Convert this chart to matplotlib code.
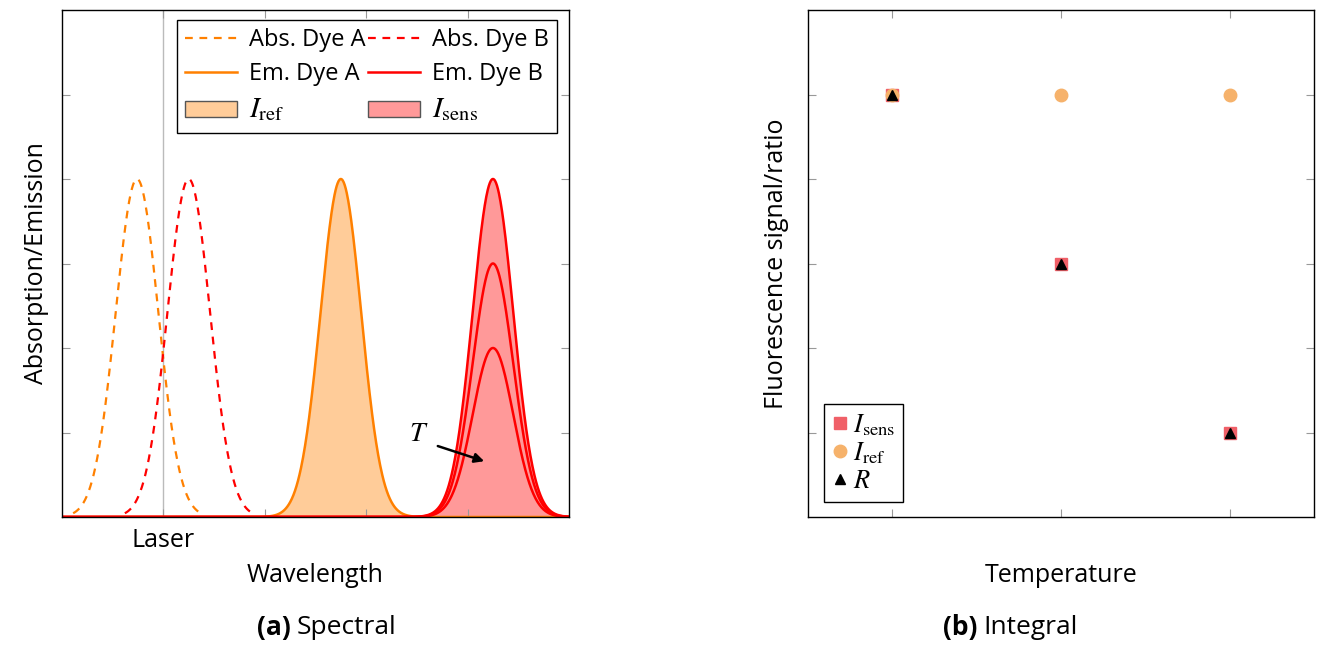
import matplotlib
matplotlib.use("Agg")
import matplotlib.pyplot as plt
import numpy as np
from matplotlib.patches import Patch
from matplotlib.lines import Line2D

plt.rcParams['font.family'] = ['Open Sans', 'DejaVu Sans']
plt.rcParams['mathtext.fontset'] = 'stix'
plt.rcParams['font.size'] = 18

#%% donnees
# spectres (centre, hauteur, largeur)
abs_A = [0.74, 4.0, 0.21]
abs_B = [1.25, 4.0, 0.21]
em_A = [2.75, 4.0, 0.2]
em_B = [4.25, 4.0, 0.2]
em_B_T = [4.0, 3.0, 2.0]   # hauteurs Em. Dye B selon T
laser = 1.0

# integrale
temp = [0.5, 1.5, 2.5]
I_sens = [5, 3, 1]
I_ref = [5, 5, 5]
R = [5, 3, 1]

orange = '#FF8000'
rouge = '#FF0000'
tick_c = '#999999'

def gauss(x, c, h, s):
    return h*np.exp(-(x-c)**2/(2*s**2))

def style_axes(ax):
    ax.tick_params(direction='in', length=6, color=tick_c, top=True, right=True,
                   labelleft=False, labelbottom=False, pad=8)
    for sp in ax.spines.values():
        sp.set_linewidth(1.0)

fig = plt.figure(figsize=(13.25, 6.49), dpi=100)

#%% (a) Spectral
ax1 = fig.add_axes([62/1325, 1-517/649, 507/1325, 507/649])
ax1.set_xlim(0, 5)
ax1.set_ylim(0, 6)
ax1.axvline(laser, color='#BBBBBB', lw=1, zorder=0)

x = np.linspace(0, 5, 1000)
for p, col in [(abs_A, orange), (abs_B, rouge)]:
    xa = np.linspace(p[0]-3*p[2], p[0]+3*p[2], 300)
    ax1.plot(xa, gauss(xa, *p), '--', color=col, lw=1.6, dashes=(3.5, 3))

ax1.fill_between(x, gauss(x, *em_A), color='#FFCC99', lw=0)
ax1.plot(x, gauss(x, *em_A), color=orange, lw=1.8)
ax1.fill_between(x, gauss(x, em_B[0], em_B_T[0], em_B[2]), color='#FF9999', lw=0)
for h in em_B_T:
    ax1.plot(x, gauss(x, em_B[0], h, em_B[2]), color=rouge, lw=1.8)

ax1.annotate('', xy=(4.19, 0.65), xytext=(3.68, 0.85),
             arrowprops=dict(arrowstyle='-|>', color='black', lw=1.8, mutation_scale=14))
ax1.text(3.52, 0.98, '$T$', fontsize=20, ha='center', va='center')

ax1.set_xticks([1, 2, 3, 4])
ax1.set_yticks([1, 2, 3, 4, 5])
style_axes(ax1)
ax1.tick_params(axis='x', labelbottom=True)
ax1.set_xticklabels(['Laser', '', '', ''])
ax1.set_xlabel('Wavelength', labelpad=7)
ax1.set_ylabel('Absorption/Emission', labelpad=9)

h1 = [Line2D([], [], color=orange, ls='--', lw=1.6, dashes=(3.5, 3)),
      Line2D([], [], color=orange, lw=1.8),
      Patch(facecolor='#FFCC99', edgecolor='#555555'),
      Line2D([], [], color=rouge, ls='--', lw=1.6, dashes=(3.5, 3)),
      Line2D([], [], color=rouge, lw=1.8),
      Patch(facecolor='#FF9999', edgecolor='#555555')]
l1 = ['Abs. Dye A', 'Em. Dye A', r'$I_\mathrm{ref}$',
      'Abs. Dye B', 'Em. Dye B', r'$I_\mathrm{sens}$']
leg = ax1.legend(h1, l1, ncol=2, loc='upper right', bbox_to_anchor=(0.976, 0.98),
                 fancybox=False, edgecolor='black', framealpha=1,
                 handlelength=2.2, columnspacing=0.1, handletextpad=0.5,
                 labelspacing=0.4, borderpad=0.35, fontsize=17, borderaxespad=0)
leg.get_frame().set_linewidth(1.0)
for t in leg.get_texts():
    if '$' in t.get_text():
        t.set_fontsize(21)

fig.text(291/1325, 1-628/649, '(a)', ha='right', va='center', fontsize=19, fontweight='bold')
fig.text(297/1325, 1-628/649, 'Spectral', ha='left', va='center', fontsize=19)

#%% (b) Integral
ax2 = fig.add_axes([808/1325, 1-517/649, 506/1325, 507/649])
ax2.set_xlim(0, 3)
ax2.set_ylim(0, 6)
ax2.plot(temp, I_sens, 's', color='#F06068', ms=9, ls='none', label=r'$I_\mathrm{sens}$')
ax2.plot(temp, I_ref, 'o', color='#F6B26B', ms=9, ls='none', label=r'$I_\mathrm{ref}$')
ax2.plot(temp, R, '^', color='black', ms=7, ls='none', label='$R$')
ax2.set_xticks(temp)
ax2.set_yticks([1, 2, 3, 4, 5])
style_axes(ax2)
ax2.set_xlabel('Temperature', labelpad=33)
ax2.set_ylabel('Fluorescence signal/ratio', labelpad=14)
leg2 = ax2.legend(loc='lower left', bbox_to_anchor=(0.032, 0.03), fancybox=False,
                  edgecolor='black', framealpha=1, handlelength=0.6, handletextpad=0.2,
                  labelspacing=0.1, borderpad=0.3, fontsize=19, borderaxespad=0)
leg2.get_frame().set_linewidth(1.0)

fig.text(977/1325, 1-628/649, '(b)', ha='right', va='center', fontsize=19, fontweight='bold')
fig.text(983/1325, 1-628/649, 'Integral', ha='left', va='center', fontsize=19)

fig.savefig('out.png', dpi=100)
